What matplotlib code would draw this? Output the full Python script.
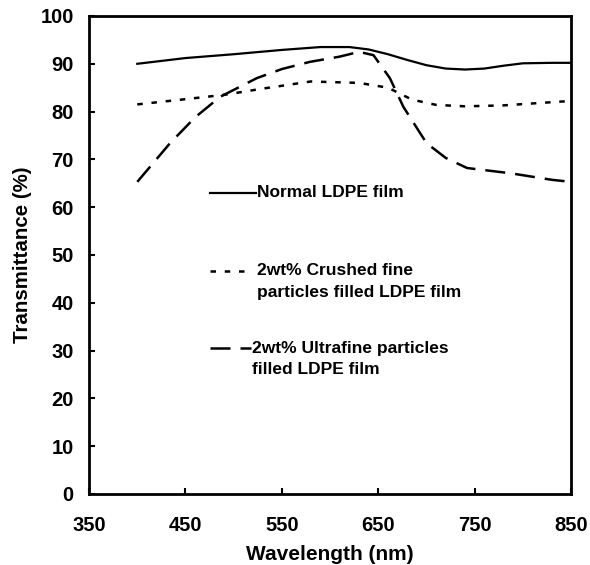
import matplotlib
matplotlib.use("Agg")
import matplotlib.pyplot as plt

plt.rcParams['font.family'] = ['Liberation Sans', 'DejaVu Sans']
plt.rcParams['font.weight'] = 'bold'

# Normal LDPE film
wl_normal = [400, 450, 500, 550, 590, 620, 640, 660, 680, 700, 720, 740, 760, 780, 800, 830, 850]
tr_normal = [90.0, 91.2, 92.0, 92.9, 93.5, 93.5, 93.0, 92.0, 90.8, 89.7, 89.0, 88.8, 89.0, 89.6, 90.1, 90.2, 90.2]

# 2wt% Crushed fine particles filled LDPE film
wl_crushed = [400, 450, 490, 530, 580, 630, 660, 685, 710, 740, 780, 840, 850]
tr_crushed = [81.5, 82.6, 83.5, 84.8, 86.3, 86.0, 85.0, 82.5, 81.4, 81.1, 81.3, 82.1, 82.2]

# 2wt% Ultrafine particles filled LDPE film
wl_ultra = [400, 434, 460, 486, 524, 550, 579, 610, 630, 645, 662, 676, 700, 720, 742, 787, 831, 850]
tr_ultra = [65.3, 73.4, 78.8, 83.1, 87.0, 88.9, 90.4, 91.5, 92.5, 91.8, 87.0, 81.0, 73.4, 70.3, 68.2, 67.1, 65.7, 65.3]

x_ticks = [350, 450, 550, 650, 750, 850]
y_ticks = [0, 10, 20, 30, 40, 50, 60, 70, 80, 90, 100]

fig = plt.figure(figsize=(5.90, 5.65), dpi=100)
ax = fig.add_axes([0.151, 0.1257, 0.817, 0.846])

ax.plot(wl_normal, tr_normal, color='black', lw=1.6, ls='-')
ax.plot(wl_crushed, tr_crushed, color='black', lw=1.8, ls=(0, (2.2, 3.5)))
ax.plot(wl_ultra, tr_ultra, color='black', lw=1.8, ls=(0, (8, 4)))

ax.set_xlim(350, 850)
ax.set_ylim(0, 100)
ax.set_xticks(x_ticks)
ax.set_yticks(y_ticks)
ax.tick_params(direction='in', length=4, width=1.5, labelsize=14.5)
ax.tick_params(axis='y', pad=11)
ax.tick_params(axis='x', pad=16)
for lab in ax.get_xticklabels() + ax.get_yticklabels():
    lab.set_fontweight('bold')
for sp in ax.spines.values():
    sp.set_linewidth(2)

ax.set_xlabel('Wavelength (nm)', fontsize=15, fontweight='bold', labelpad=7)
ax.set_ylabel('Transmittance (%)', fontsize=14.8, fontweight='bold', labelpad=6)

# legend drawn manually
tf = ax.transAxes
fs = 12.5
ax.plot([0.251, 0.346], [0.630, 0.630], transform=tf, color='black', lw=1.6, ls='-')
ax.text(0.349, 0.630, 'Normal LDPE film', transform=tf, fontsize=fs, fontweight='bold', va='center', ha='left')

ax.plot([0.251, 0.328], [0.4665, 0.4665], transform=tf, color='black', lw=1.8, ls=(0, (2.2, 3.5)))
ax.text(0.349, 0.4665, '2wt% Crushed fine', transform=tf, fontsize=fs, fontweight='bold', va='center', ha='left')
ax.text(0.349, 0.4205, 'particles filled LDPE film', transform=tf, fontsize=fs, fontweight='bold', va='center', ha='left')

ax.plot([0.251, 0.336], [0.3054, 0.3054], transform=tf, color='black', lw=1.8, ls=(0, (8, 4)))
ax.text(0.338, 0.3054, '2wt% Ultrafine particles', transform=tf, fontsize=fs, fontweight='bold', va='center', ha='left')
ax.text(0.338, 0.2594, 'filled LDPE film', transform=tf, fontsize=fs, fontweight='bold', va='center', ha='left')

fig.savefig('out.png', dpi=100)
